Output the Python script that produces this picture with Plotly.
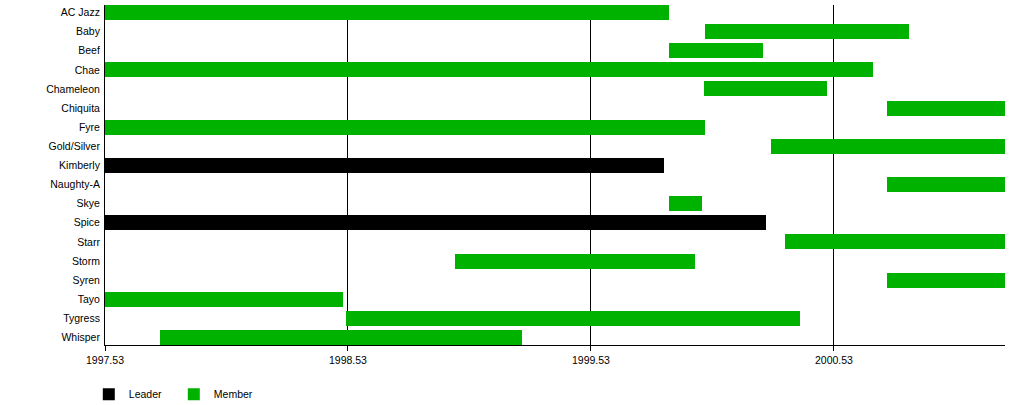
import plotly.graph_objects as go

# ---- data ----
names = ["AC Jazz", "Baby", "Beef", "Chae", "Chameleon", "Chiquita", "Fyre",
         "Gold/Silver", "Kimberly", "Naughty-A", "Skye", "Spice", "Starr",
         "Storm", "Syren", "Tayo", "Tygress", "Whisper"]
roles = ["Member", "Member", "Member", "Member", "Member", "Member", "Member",
         "Member", "Leader", "Member", "Member", "Leader", "Member",
         "Member", "Member", "Member", "Member", "Member"]
AXIS_START = 1997.53
AXIS_END = 2001.234
starts = [1997.53, 2000.00, 1999.85, 1997.53, 1999.995, 2000.75, 1997.53,
          2000.27, 1997.53, 2000.75, 1999.85, 1997.53, 2000.33,
          1998.97, 2000.75, 1997.53, 1998.52, 1997.755]
ends = [1999.85, 2000.84, 2000.24, 2000.69, 2000.50, AXIS_END, 2000.00,
        AXIS_END, 1999.83, AXIS_END, 1999.985, 2000.25, AXIS_END,
        1999.96, AXIS_END, 1998.51, 2000.39, 1999.245]
tick_vals = [1997.53, 1998.53, 1999.53, 2000.53]
tick_text = ["1997.53", "1998.53", "1999.53", "2000.53"]
role_colors = {"Leader": "#000000", "Member": "#00b200"}

fig = go.Figure()
for role in ["Leader", "Member"]:
    idx = [i for i, r in enumerate(roles) if r == role]
    fig.add_trace(go.Bar(
        orientation="h",
        y=idx,
        base=[starts[i] for i in idx],
        x=[ends[i] - starts[i] for i in idx],
        width=0.783,
        name=role,
        marker=dict(color=role_colors[role], line=dict(width=0)),
        customdata=[names[i] for i in idx],
        hovertemplate="%{customdata}: %{base:.2f}–%{x:.2f}<extra>" + role + "</extra>",
    ))

fig.update_layout(
    width=1015, height=405,
    margin=dict(l=105, r=10, t=5, b=60, autoexpand=False),
    paper_bgcolor="white", plot_bgcolor="white",
    font=dict(family="Liberation Sans, Arial, sans-serif", size=10.5, color="black"),
    barmode="overlay",
    bargap=0,
    showlegend=True,
    legend=dict(orientation="h", x=-0.018, xanchor="left", y=-0.145, yanchor="middle",
                font=dict(size=10.5), itemwidth=30, entrywidth=40, entrywidthmode="pixels",
                traceorder="normal"),
)
fig.update_xaxes(range=[AXIS_START, AXIS_END], tickvals=tick_vals, ticktext=tick_text,
                 showgrid=True, gridcolor="black", gridwidth=1, zeroline=False,
                 showline=True, linecolor="black", linewidth=1, automargin=False,
                 ticks="outside", ticklen=5, tickcolor="black", tickwidth=1)
fig.update_yaxes(range=[len(names) - 1 + 0.39, -0.39], tickvals=list(range(len(names))),
                 ticktext=names, showgrid=False, zeroline=False, automargin=False,
                 showline=True, linecolor="black", linewidth=1, ticks="", ticklabelstandoff=2)

fig.write_html("out.html", config={"displayModeBar": False},
               post_script="document.body.style.margin='0';document.body.style.overflow='hidden';")
